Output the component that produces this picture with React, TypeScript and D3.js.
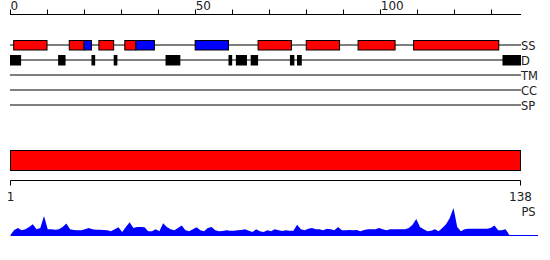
import React from "react";
import * as d3 from "d3";

const LENGTH = 138;
const topTicks = [0, 10, 20, 30, 40, 50, 60, 70, 80, 90, 100, 110, 120, 130];
const topLabels = [0, 50, 100];
const bottomLabels = [1, 138];
const trackNames = ["SS", "D", "TM", "CC", "SP"];

// secondary structure: [start, end, type] H = helix (red), E = strand (blue)
const ssSegments: [number, number, string][] = [
  [1, 10, "H"], [16, 20, "H"], [20, 22, "E"], [24, 28, "H"], [31, 34, "H"],
  [34, 39, "E"], [50, 59, "E"], [67, 76, "H"], [80, 89, "H"], [94, 104, "H"],
  [109, 132, "H"],
];
// disordered regions
const disorder: [number, number][] = [
  [0, 3], [13, 15], [22, 23], [28, 29], [42, 46], [59, 60], [61, 64], [65, 67],
  [75.6, 76.8], [77.5, 78.8], [133, 138],
];
// domain bar
const domains: [number, number][] = [[1, 138]];
// PS profile (per residue)
const psValues = [
  0, 5, 7, 4.7, 5.7, 8, 10.8, 5.7, 7, 19,
  5.7, 5.7, 5.3, 5.7, 8, 11.5, 5.7, 5, 4.7, 4.7,
  5.7, 7, 5.7, 5.3, 5.3, 5, 4.7, 3.7, 5.7, 7.7,
  3, 8, 12.8, 7, 8, 8, 7.7, 3.7, 3.7, 5.7,
  3.7, 11.8, 8, 5.7, 4.7, 7, 9.5, 4.7, 3.7, 5.7,
  7.7, 4.7, 3.7, 7, 8, 4.7, 3.7, 4, 4.7, 4.3,
  4.3, 4.7, 5, 5.7, 4.3, 3, 5.7, 3.7, 3, 4.7,
  3.7, 5.7, 4.7, 4, 4.7, 4.3, 4.3, 10.2, 5.7, 4.7,
  6.3, 7, 5.7, 5.7, 4.7, 6.3, 5.7, 4.7, 8, 4.7,
  4.7, 5, 4.7, 5, 3.7, 5, 5.7, 5.7, 5.7, 7,
  5.7, 4.7, 5.7, 5.7, 5.7, 5.7, 5.7, 7, 10.2, 16,
  8, 5.7, 3.7, 4.3, 5.7, 3.7, 7, 10.8, 17, 27,
  8, 3.7, 5.7, 6.3, 6.3, 6.3, 6.3, 6.3, 6.3, 7,
  9.5, 4.7, 4.7, 5.7, 0, 0, 0, 0,
];

const FONT = "DejaVu Sans";

export default function App() {
  const W = 550, H = 260;
  const xTop = d3.scaleLinear().domain([0, LENGTH]).range([10, 521]);
  const xRes = d3.scaleLinear().domain([1, LENGTH]).range([10.5, 520.5]);
  const yPS = d3.scaleLinear().domain([0, 30]).range([235, 205]);
  const axisY = 14.5;
  const trackY0 = 45;
  const trackStep = 15;
  const trackY = (i: number) => trackY0 + i * trackStep;

  const area = d3
    .area<number>()
    .x((_, i) => xRes(i + 1))
    .y0(yPS(0))
    .y1((d) => yPS(d))
    .curve(d3.curveLinear);

  return (
    <svg width={W} height={H} style={{ display: "block", position: "absolute", left: 0, top: 0 }} fontFamily={FONT}>
      <rect x={0} y={0} width={W} height={H} fill="#fff" />
      {/* top axis */}
      <line x1={xTop(0)} x2={xTop(LENGTH)} y1={axisY} y2={axisY} stroke="#000" />
      {topTicks.map((t) => (
        <line key={t} x1={Math.round(xTop(t)) + 0.5} x2={Math.round(xTop(t)) + 0.5} y1={axisY} y2={axisY - 5} stroke="#000" />
      ))}
      {topLabels.map((t) => (
        <text key={t} x={xTop(t) + 0.5} y={9.5} fontSize={12} fill="#222">{t}</text>
      ))}
      {/* tracks */}
      {trackNames.map((n, i) => (
        <g key={n}>
          <line x1={xTop(0)} x2={xTop(LENGTH)} y1={trackY(i)} y2={trackY(i)} stroke="#000" />
          <text x={xTop(LENGTH)} y={trackY(i) + 4.5} fontSize={11.5} fill="#222">{n}</text>
        </g>
      ))}
      {ssSegments.map(([s, e, t], i) => (
        <rect
          key={i}
          x={xTop(s)}
          y={trackY(0) - 4.5}
          width={xTop(e) - xTop(s)}
          height={9.5}
          fill={t === "H" ? "#ff0000" : "#0000ff"}
          stroke="#000"
          strokeWidth={1}
        />
      ))}
      {disorder.map(([s, e], i) => (
        <rect key={i} x={xTop(s)} y={trackY(1) - 5} width={xTop(e) - xTop(s)} height={10.5} fill="#000" />
      ))}
      {/* domain bar */}
      {domains.map(([s, e], i) => (
        <rect key={i} x={xRes(s)} y={150.5} width={xRes(e) - xRes(s)} height={20} fill="#ff0000" stroke="#000" />
      ))}
      {/* bottom axis */}
      <path
        d={`M${xRes(1)},185.5V180.5H${xRes(LENGTH)}V185.5`}
        fill="none"
        stroke="#000"
      />
      {bottomLabels.map((t) => (
        <text key={t} x={xRes(t)} y={200.5} fontSize={12} textAnchor="middle" fill="#222">{t}</text>
      ))}
      <text x={xRes(LENGTH) + 8} y={215.5} fontSize={11.5} textAnchor="middle" fill="#222">PS</text>
      {/* PS profile */}
      <path d={area(psValues) || ""} fill="#0000ff" stroke="none" />
      <line x1={xRes(1)} x2={xRes(LENGTH) + 17.5} y1={yPS(0) + 0.5} y2={yPS(0) + 0.5} stroke="#0000ff" />
    </svg>
  );
}
